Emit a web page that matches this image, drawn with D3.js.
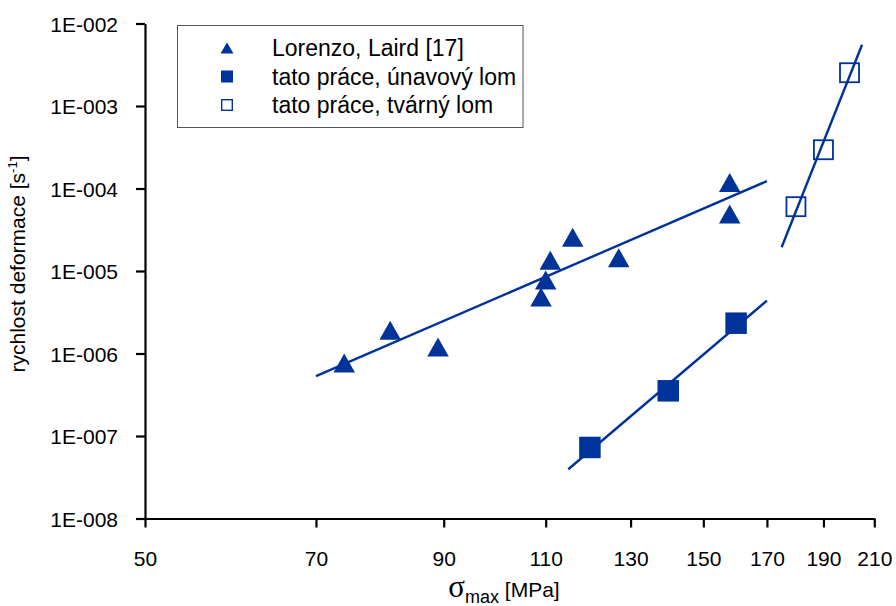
<!DOCTYPE html>
<html>
<head>
<meta charset="utf-8">
<script src="https://cdn.jsdelivr.net/npm/d3@7"></script>
<style>
  html, body { margin: 0; padding: 0; background: #fff; }
  svg { display: block; font-family: "Liberation Sans", Arial, sans-serif; }
</style>
</head>
<body>
<svg id="chart" width="896" height="606"></svg>
<script>
// Axis ticks
const xTicks = [50, 70, 90, 110, 130, 150, 170, 190, 210];
const yTicks = [1e-8, 1e-7, 1e-6, 1e-5, 1e-4, 1e-3, 1e-2];
const yTickLabels = ["1E-008", "1E-007", "1E-006", "1E-005", "1E-004", "1E-003", "1E-002"];

// Lorenzo, Laird [17]
const lorenzoX = [74, 81, 89, 109, 110, 111, 116, 127, 158, 158];
const lorenzoY = [7.67e-7, 1.91e-6, 1.20e-6, 4.84e-6, 7.78e-6, 1.35e-5, 2.56e-5, 1.45e-5, 1.18e-4, 4.91e-5];

// tato práce, únavový lom
const fatigueX = [120, 140, 160];
const fatigueY = [7.26e-8, 3.53e-7, 2.33e-6];

// tato práce, tvárný lom
const ductileX = [180, 190, 200];
const ductileY = [6.02e-5, 2.95e-4, 2.53e-3];

// Power-law fit lines (end points)
const lorenzoFitX = [70, 170];
const lorenzoFitY = [5.31e-7, 1.23e-4];
const fatigueFitX = [115, 170];
const fatigueFitY = [3.95e-8, 4.37e-6];
const ductileFitX = [175, 205];
const ductileFitY = [1.94e-5, 5.53e-3];

const legendLabels = ["Lorenzo, Laird [17]", "tato práce, únavový lom", "tato práce, tvárný lom"];

const BLUE = "#003399";
const svg = d3.select("#chart");

const x = d3.scaleLog().domain([50, 210]).range([145, 874.3]);
const y = d3.scaleLog().domain([1e-8, 1e-2]).range([518.5, 23.5]);

// Axes
const xAxis = svg.append("g")
  .attr("transform", `translate(0,${y.range()[0]})`)
  .call(d3.axisBottom(x).tickValues(xTicks).tickFormat(d3.format("d"))
    .tickSize(9).tickSizeOuter(0).tickPadding(24));
const yAxis = svg.append("g")
  .attr("transform", `translate(${x.range()[0]},0)`)
  .call(d3.axisLeft(y).tickValues(yTicks).tickFormat((d, i) => yTickLabels[i])
    .tickSize(9).tickSizeOuter(0).tickPadding(18));

[xAxis, yAxis].forEach(g => {
  g.select(".domain").attr("stroke", "#000").attr("stroke-width", 2.2);
  g.selectAll(".tick line").attr("stroke", "#000").attr("stroke-width", 2.2);
  g.selectAll(".tick text").attr("fill", "#000").style("font-size", "21px")
    .style("font-family", "'Liberation Sans', Arial, sans-serif");
});
yAxis.selectAll(".tick text").attr("dy", "0.36em");

// Axis titles
const yTitle = svg.append("text")
  .attr("transform", "translate(25,264) rotate(-90)")
  .attr("text-anchor", "middle")
  .style("font-size", "21px");
yTitle.append("tspan").text("rychlost deformace [s");
yTitle.append("tspan").attr("dy", -8).style("font-size", "13px").text("-1");
yTitle.append("tspan").attr("dy", 8).text("]");

const xTitle = svg.append("text")
  .attr("x", 504).attr("y", 597)
  .attr("text-anchor", "middle")
  .style("font-size", "21px");
xTitle.append("tspan").style("font-family", "'Liberation Serif', 'DejaVu Serif', serif")
  .style("font-size", "31px").text("σ");
xTitle.append("tspan").attr("dy", 6).style("font-size", "18px").text("max");
xTitle.append("tspan").attr("dy", -6).text(" [MPa]");

// Fit lines
const line = d3.line().x(d => x(d[0])).y(d => y(d[1]));
[[lorenzoFitX, lorenzoFitY], [fatigueFitX, fatigueFitY], [ductileFitX, ductileFitY]].forEach(([xs, ys]) => {
  svg.append("path")
    .attr("d", line(xs.map((v, i) => [v, ys[i]])))
    .attr("fill", "none").attr("stroke", BLUE).attr("stroke-width", 2.4);
});

// Marker shapes centred on their bounding box
function triPath(w, h) {
  return `M0,${-h / 2}L${w / 2},${h / 2}L${-w / 2},${h / 2}Z`;
}

svg.append("g").selectAll("path")
  .data(lorenzoX.map((v, i) => [v, lorenzoY[i]]))
  .join("path")
  .attr("transform", d => `translate(${x(d[0])},${y(d[1])})`)
  .attr("d", triPath(21.5, 19))
  .attr("fill", BLUE);

const fs = 21.5;
svg.append("g").selectAll("rect")
  .data(fatigueX.map((v, i) => [v, fatigueY[i]]))
  .join("rect")
  .attr("x", d => x(d[0]) - fs / 2).attr("y", d => y(d[1]) - fs / 2)
  .attr("width", fs).attr("height", fs)
  .attr("fill", BLUE);

const os = 19;
svg.append("g").selectAll("rect")
  .data(ductileX.map((v, i) => [v, ductileY[i]]))
  .join("rect")
  .attr("x", d => x(d[0]) - os / 2).attr("y", d => y(d[1]) - os / 2)
  .attr("width", os).attr("height", os)
  .attr("fill", "none").attr("stroke", BLUE).attr("stroke-width", 1.8);

// Legend
const lg = svg.append("g");
lg.append("rect")
  .attr("x", 177.5).attr("y", 25.5).attr("width", 345.5).attr("height", 102)
  .attr("fill", "#fff").attr("stroke", "#555").attr("stroke-width", 1);
const rowY = [48, 76.5, 105];
const mx = 227;
lg.append("path").attr("transform", `translate(${mx},${rowY[0]})`)
  .attr("d", triPath(13, 11)).attr("fill", BLUE);
lg.append("rect").attr("x", mx - 6).attr("y", rowY[1] - 6).attr("width", 12).attr("height", 12)
  .attr("fill", BLUE);
lg.append("rect").attr("x", mx - 5.3).attr("y", rowY[2] - 5.3).attr("width", 10.6).attr("height", 10.6)
  .attr("fill", "none").attr("stroke", BLUE).attr("stroke-width", 1.4);
lg.selectAll("text.lbl")
  .data(legendLabels)
  .join("text")
  .attr("class", "lbl")
  .attr("x", 272).attr("y", (d, i) => rowY[i] + 8)
  .style("font-size", "23px")
  .attr("fill", "#000")
  .text(d => d);
</script>
</body>
</html>
